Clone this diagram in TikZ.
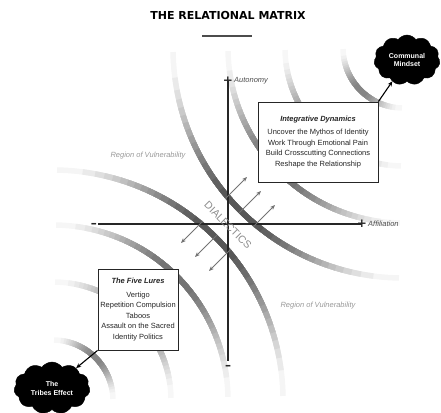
\documentclass[tikz,border=0pt]{standalone}
\usepackage{fontspec}
\setmainfont{Liberation Sans}
\newfontfamily\titlefont{DejaVu Sans}
\usetikzlibrary{shapes.symbols,shadows,arrows.meta}

\newcommand\boxhead[1]{\textbf{\textit{#1}}}

\tikzset{
  band/.style={line width=5.5pt},
  axis/.style={draw=black!85, line width=1.1pt},
  sign/.style={inner sep=1pt, font=\titlefont\bfseries\fontsize{12}{12}\selectfont, text=black!85},
  axislabel/.style={anchor=west, inner sep=1pt, font=\fontsize{7.5}{9}\selectfont\itshape, text=black!70},
  regionlabel/.style={font=\fontsize{7.5}{9}\selectfont\itshape, text=black!40},
  dialarrow/.style={draw=black!55, line width=0.8pt, -{Stealth[length=5pt,width=4pt]}},
  infobox/.style={draw=black!85, line width=0.8pt, fill=white, align=center, inner sep=1.5pt,
    text=black!85, font=\fontsize{7.5}{10.5}\selectfont,
    drop shadow={shadow xshift=1.3pt, shadow yshift=-1.3pt, fill=black!45, opacity=1}},
  mindcloud/.style={cloud, cloud puffs=11, cloud puff arc=110, cloud ignores aspect,
    draw=black, fill=black, text=white, align=center, inner sep=0pt,
    font=\fontsize{7}{9}\selectfont\bfseries},
  cloudarrow/.style={draw=black, line width=1.1pt, -{Stealth[length=5pt,width=4.5pt]}}
}

\begin{document}
\begin{tikzpicture}[x=1pt,y=1pt]
\useasboundingbox (-228,-188) rectangle (213,224);

% Set up the centres
\coordinate (O) at (0,0);
\coordinate (ur) at (175,176);
\coordinate (ll) at (-175,-176);
\coordinate (m1) at (-14,14);
\coordinate (m3) at (14,-14);

% Bands: shorter and darker arcs stacked, so each one fades toward its ends
\foreach \r/\k in {60/48,118/48,175/55,230/66}{
  \foreach \j in {0,...,15}{
    \pgfmathsetmacro\g{\k*(\j+1)/16}
    \pgfmathsetmacro\aj{asin(((\j+0.02)/16)^0.5)/2}
    \pgfmathsetmacro\sa{180+\aj}
    \pgfmathsetmacro\ea{270-\aj}
    \pgfmathsetmacro\eb{90-\aj}
    \draw[band, black!\g] ([shift={(\sa:\r)}]ur) arc (\sa:\ea:\r);
    \draw[band, black!\g] ([shift={(\aj:\r)}]ll) arc (\aj:\eb:\r);
  }
}

% Axes
\node[sign] (autplus) at (0,143) {+};
\node[sign] (autminus) at (0,-142) {\vphantom{+}\textendash};
\node[sign] (affminus) at (-134,0) {\vphantom{+}\textendash};
\node[sign] (affplus) at (134,0) {+};
\draw[axis] (autplus.center) -- (autminus);
\draw[axis] (affminus) -- (affplus.center);

% Labels
\node[axislabel] (autonomy) at (5,143) {Autonomy};
\node[axislabel] (affiliation) at (139,0) {Affiliation};
\node[regionlabel] (vulnul) at (-80,68) {Region of Vulnerability};
\node[regionlabel] (vulnlr) at (90,-82) {Region of Vulnerability};
\node[rotate=-45, text=black!45, font=\fontsize{10.5}{11}\selectfont] (dialectics) at (0,-1) {DIALECTICS};

% Dialectic arrows
\foreach \m in {m1,O,m3}{
  \draw[dialarrow] ([shift={(11,11)}]\m) -- ([shift={(33,33)}]\m);
  \draw[dialarrow] ([shift={(-11,-11)}]\m) -- ([shift={(-33,-33)}]\m);
}

% Boxes
\node[infobox, minimum width=120pt, minimum height=80pt] (integ) at (90,82)
  {\boxhead{Integrative Dynamics}\\[2.5pt]
   Uncover the Mythos of Identity\\
   Work Through Emotional Pain\\
   Build Crosscutting Connections\\
   Reshape the Relationship};
\node[infobox, minimum width=80pt, minimum height=81pt] (lures) at (-90,-85.5)
  {\boxhead{The Five Lures}\\[3pt]
   Vertigo\\
   Repetition Compulsion\\
   Taboos\\
   Assault on the Sacred\\
   Identity Politics};

% Clouds
\node[mindcloud, minimum width=66pt, minimum height=50pt] (communal) at (179,164) {Communal\\Mindset};
\node[mindcloud, minimum width=76pt, minimum height=52pt] (tribes) at (-176,-164) {The\\Tribes Effect};
\draw[cloudarrow] (integ.north east) -- (communal);
\draw[cloudarrow] (lures.south west) -- (tribes);

% Title
\node[font=\titlefont\bfseries\fontsize{11}{13}\selectfont] (title) at (0,209) {THE RELATIONAL MATRIX};
\draw[black!70, line width=1.2pt] (-26,188) -- (24,188);
\end{tikzpicture}
\end{document}
